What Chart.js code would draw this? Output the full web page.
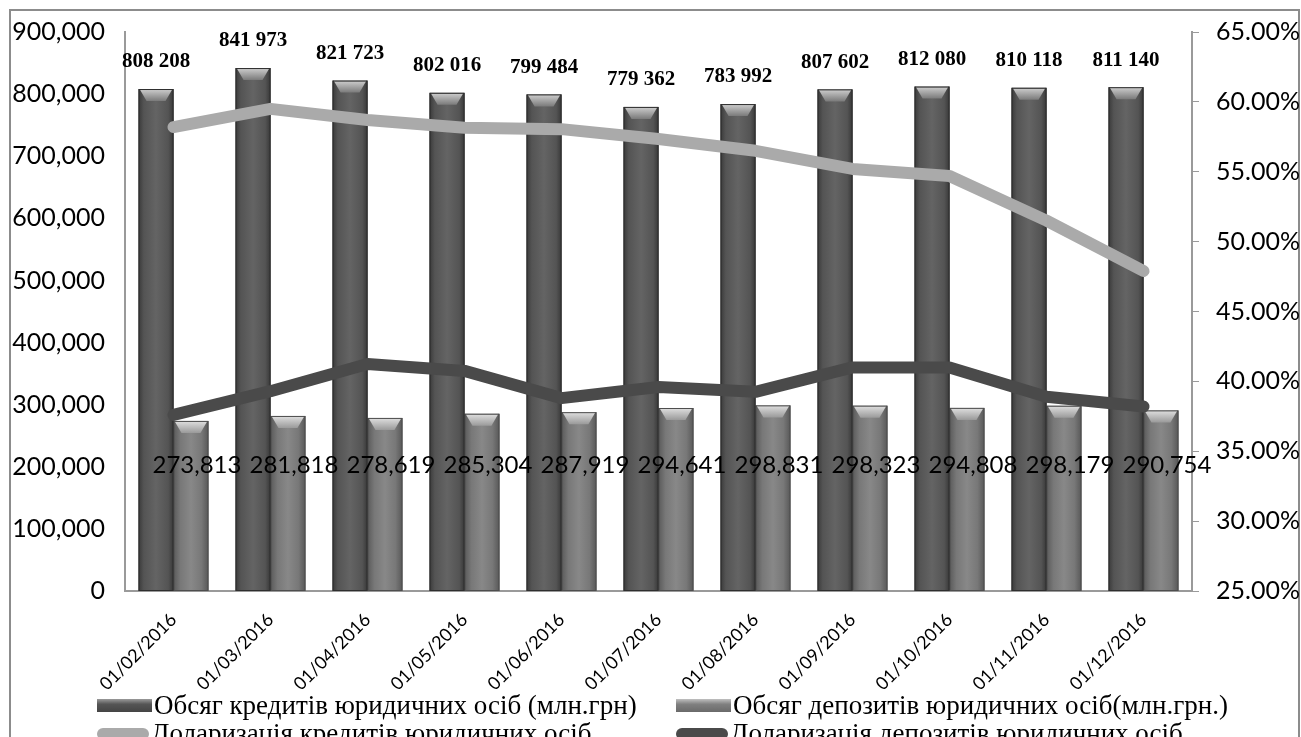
<!DOCTYPE html>
<html>
<head>
<meta charset="utf-8">
<script src="https://cdn.jsdelivr.net/npm/chart.js@4.4.1/dist/chart.umd.min.js"></script>
<style>
  body { margin:0; width:1301px; height:737px; overflow:hidden; background:#fff; position:relative; }
  #frame { position:absolute; left:9px; top:9px; width:1287px; height:780px; border:2px solid #8c8c8c; }
  #c { position:absolute; left:0; top:0; }
  .leg { position:absolute; font-family:"Liberation Serif", serif; font-size:27px; line-height:27px; color:#000; white-space:nowrap; }
  .leg span.box { display:inline-block; width:55px; height:13px; vertical-align:2px; margin-right:2px; }
  .leg span.ln { display:inline-block; width:52px; height:12px; border-radius:6px; vertical-align:2px; margin-right:2px; }
</style>
</head>
<body>
<div id="frame"></div>
<canvas id="c" width="1301" height="737"></canvas>
<div class="leg" style="left:97px; top:692px;"><span class="box" style="background:linear-gradient(#9a9a9a,#555 40%,#444)"></span><span id="l0"></span></div>
<div class="leg" style="left:676px; top:692px;"><span class="box" style="background:linear-gradient(#c0c0c0,#808080 40%,#6a6a6a)"></span><span id="l1"></span></div>
<div class="leg" style="left:97px; top:720px;"><span class="ln" style="background:#aaaaaa"></span><span id="l2"></span></div>
<div class="leg" style="left:676px; top:720px;"><span class="ln" style="background:#4a4a4a"></span><span id="l3"></span></div>
<script>
const categories = ['01/02/2016', '01/03/2016', '01/04/2016', '01/05/2016', '01/06/2016', '01/07/2016',
  '01/08/2016', '01/09/2016', '01/10/2016', '01/11/2016', '01/12/2016'];
const seriesNames = [
  'Обсяг кредитів юридичних осіб (млн.грн)',
  'Обсяг депозитів юридичних осіб(млн.грн.)',
  'Доларизація кредитів юридичних осіб',
  'Доларизація депозитів юридичних осіб'
];
const credits = [808208, 841973, 821723, 802016, 799484, 779362, 783992, 807602, 812080, 810118, 811140];
const deposits = [273813, 281818, 278619, 285304, 287919, 294641, 298831, 298323, 294808, 298179, 290754];
const creditDollar = [58.2, 59.5, 58.7, 58.15, 58.05, 57.35, 56.5, 55.2, 54.7, 51.5, 47.9];
const depositDollar = [37.6, 39.3, 41.25, 40.75, 38.8, 39.6, 39.25, 41.0, 41.0, 38.9, 38.2];
const leftTicks = { min: 0, max: 900000, step: 100000 };
const rightTicks = { min: 25, max: 65, step: 5 };

seriesNames.forEach((n, i) => { document.getElementById('l' + i).textContent = n; });

Chart.defaults.font.family = 'Lato';
Chart.defaults.color = '#000';

// 3D-ish shading for bars (drawn over the library's own bar elements)
const barShade = {
  id: 'barShade',
  afterDatasetDraw(chart, args) {
    const meta = args.meta;
    if (meta.type !== 'bar') return;
    const ctx = chart.ctx;
    const dark = args.index === 0;
    ctx.save();
    meta.data.forEach(el => {
      const w = el.width, l = el.x - w / 2, r = el.x + w / 2, t = el.y, b = el.base;
      const g = ctx.createLinearGradient(l, 0, r, 0);
      if (dark) {
        g.addColorStop(0, '#3a3a3a'); g.addColorStop(0.15, '#545454');
        g.addColorStop(0.5, '#646464'); g.addColorStop(0.85, '#545454'); g.addColorStop(1, '#383838');
      } else {
        g.addColorStop(0, '#5a5a5a'); g.addColorStop(0.2, '#787878');
        g.addColorStop(0.5, '#888888'); g.addColorStop(0.8, '#787878'); g.addColorStop(1, '#585858');
      }
      ctx.fillStyle = g;
      ctx.fillRect(l, t, w, b - t);
      // top bevel
      const h = 12, inset = 8;
      const gt = ctx.createLinearGradient(0, t, 0, t + h);
      gt.addColorStop(0, dark ? '#cfcfcf' : '#e0e0e0');
      gt.addColorStop(1, dark ? '#7a7a7a' : '#9a9a9a');
      ctx.fillStyle = gt;
      ctx.beginPath();
      ctx.moveTo(l + 1, t); ctx.lineTo(r - 1, t); ctx.lineTo(r - inset, t + h); ctx.lineTo(l + inset, t + h);
      ctx.closePath(); ctx.fill();
      ctx.strokeStyle = dark ? '#2e2e2e' : '#4e4e4e';
      ctx.lineWidth = 1;
      ctx.strokeRect(l + 0.5, t + 0.5, w - 1, b - t - 1);
    });
    ctx.restore();
  }
};

// value labels
const valueLabels = {
  id: 'valueLabels',
  afterDatasetsDraw(chart) {
    const ctx = chart.ctx;
    const y = chart.scales.y;
    ctx.save();
    ctx.fillStyle = '#000';
    ctx.textAlign = 'center';
    ctx.textBaseline = 'middle';
    ctx.font = 'bold 21px "Liberation Serif"';
    chart.getDatasetMeta(0).data.forEach((el, i) => {
      ctx.fillText(credits[i].toLocaleString('en-US').replace(/,/g, ' '), el.x, el.y - 27);
    });
    ctx.font = '24px Lato';
    const ly = y.getPixelForValue(200000) - 2;
    chart.getDatasetMeta(1).data.forEach((el, i) => {
      ctx.fillText(deposits[i].toLocaleString('en-US'), el.x + 6, ly);
    });
    ctx.restore();
  }
};

new Chart(document.getElementById('c'), {
  type: 'bar',
  data: {
    labels: categories,
    datasets: [
      { label: seriesNames[0], data: credits, backgroundColor: '#555', yAxisID: 'y', order: 2,
        barPercentage: 1, categoryPercentage: 0.72 },
      { label: seriesNames[1], data: deposits, backgroundColor: '#7a7a7a', yAxisID: 'y', order: 2,
        barPercentage: 1, categoryPercentage: 0.72 },
      { type: 'line', label: seriesNames[2], data: creditDollar, yAxisID: 'y1', order: 1,
        borderColor: '#aaaaaa', borderWidth: 12, pointRadius: 0, tension: 0,
        borderCapStyle: 'round', borderJoinStyle: 'round' },
      { type: 'line', label: seriesNames[3], data: depositDollar, yAxisID: 'y1', order: 1,
        borderColor: '#4a4a4a', borderWidth: 12, pointRadius: 0, tension: 0,
        borderCapStyle: 'round', borderJoinStyle: 'round' }
    ]
  },
  options: {
    responsive: false,
    animation: false,
    layout: { padding: { top: 22, left: 0, right: 0, bottom: 0 } },
    plugins: { legend: { display: false }, tooltip: { enabled: false } },
    scales: {
      x: {
        grid: { display: false },
        border: { display: true, color: '#9a9a9a', width: 2 },
        ticks: { minRotation: 45, maxRotation: 45, autoSkip: false, padding: 10, font: { size: 18 } },
        afterFit: s => { s.height = 146; }
      },
      y: {
        position: 'left',
        min: leftTicks.min, max: leftTicks.max,
        grid: { display: false },
        border: { display: true, color: '#9a9a9a', width: 2 },
        ticks: { stepSize: leftTicks.step, padding: 12, font: { size: 25 },
          callback: v => v.toLocaleString('en-US') },
        afterFit: s => { s.width = 125; }
      },
      y1: {
        position: 'right',
        min: rightTicks.min, max: rightTicks.max,
        grid: { drawOnChartArea: false, drawTicks: true, tickLength: 7, color: '#9a9a9a' },
        border: { display: true, color: '#9a9a9a', width: 2 },
        ticks: { stepSize: rightTicks.step, padding: 17, font: { size: 25 },
          callback: v => v.toFixed(2) + '%' },
        afterFit: s => { s.width = 109; }
      }
    }
  },
  plugins: [barShade, valueLabels]
});
</script>
</body>
</html>
